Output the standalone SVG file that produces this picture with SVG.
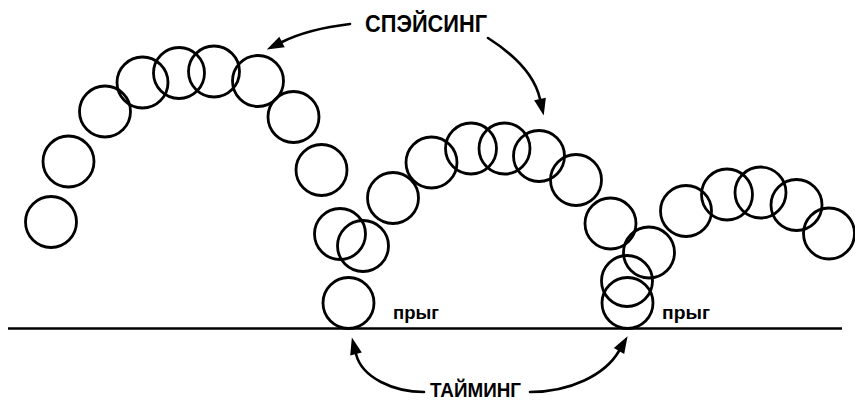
<svg xmlns="http://www.w3.org/2000/svg" width="855" height="402" viewBox="0 0 855 402">
  <style>
    .ball { fill: none; stroke: #000; stroke-width: 2.8; }
    .ground { stroke: #000; stroke-width: 2.5; }
    .arrow { fill: none; stroke: #000; stroke-width: 2.6; stroke-linecap: round; marker-end: url(#head); }
    .label { font-family: "Liberation Sans", Arial, sans-serif; font-weight: bold; fill: #000; }
  </style>
  <defs>
    <marker id="head" markerUnits="userSpaceOnUse" markerWidth="20" markerHeight="14" refX="0" refY="6" orient="auto" overflow="visible">
      <path d="M0,0 L17,6 L0,12 Z" fill="#000"/>
    </marker>
  </defs>

  <rect width="855" height="402" fill="#fff"/>

  <!-- ground -->
  <line class="ground" x1="8" y1="328.5" x2="842" y2="328.5"/>

  <!-- first bounce -->
  <g id="bounce-1">
    <circle id="b1-01" class="ball" cx="51" cy="222" r="25.5"/>
    <circle id="b1-02" class="ball" cx="68.5" cy="161.5" r="25.5"/>
    <circle id="b1-03" class="ball" cx="105" cy="111.5" r="25.5"/>
    <circle id="b1-04" class="ball" cx="142.5" cy="82.5" r="25.5"/>
    <circle id="b1-05" class="ball" cx="179" cy="73" r="25.5"/>
    <circle id="b1-06" class="ball" cx="214" cy="71.5" r="25.5"/>
    <circle id="b1-07" class="ball" cx="258" cy="81" r="25.5"/>
    <circle id="b1-08" class="ball" cx="293.5" cy="117" r="25.5"/>
    <circle id="b1-09" class="ball" cx="321.5" cy="170" r="25.5"/>
    <circle id="b1-10" class="ball" cx="340" cy="234" r="25.5"/>
    <circle id="b1-11" class="ball" cx="363" cy="246" r="25.5"/>
    <circle id="b1-12" class="ball" cx="348.5" cy="303" r="25.5"/>
  </g>

  <!-- second bounce -->
  <g id="bounce-2">
    <circle id="b2-01" class="ball" cx="393" cy="198" r="25.5"/>
    <circle id="b2-02" class="ball" cx="431.5" cy="162.5" r="25.5"/>
    <circle id="b2-03" class="ball" cx="471" cy="148.5" r="25.5"/>
    <circle id="b2-04" class="ball" cx="504.5" cy="148.5" r="25.5"/>
    <circle id="b2-05" class="ball" cx="539" cy="156" r="25.5"/>
    <circle id="b2-06" class="ball" cx="576" cy="180" r="25.5"/>
    <circle id="b2-07" class="ball" cx="610.5" cy="223.5" r="25.5"/>
    <circle id="b2-08" class="ball" cx="649" cy="252.5" r="25.5"/>
    <circle id="b2-09" class="ball" cx="627" cy="281" r="25.5"/>
    <circle id="b2-10" class="ball" cx="627.5" cy="303" r="25.5"/>
  </g>

  <!-- third bounce -->
  <g id="bounce-3">
    <circle id="b3-01" class="ball" cx="686" cy="211" r="25.5"/>
    <circle id="b3-02" class="ball" cx="727" cy="194.5" r="25.5"/>
    <circle id="b3-03" class="ball" cx="760.5" cy="192.5" r="25.5"/>
    <circle id="b3-04" class="ball" cx="796.5" cy="205" r="25.5"/>
    <circle id="b3-05" class="ball" cx="829" cy="233.5" r="25.5"/>
  </g>

  <!-- labels -->
  <g id="labels">
    <text id="spacing" class="label" x="365" y="32" font-size="23" textLength="122" lengthAdjust="spacingAndGlyphs">СПЭЙСИНГ</text>
    <text id="timing" class="label" x="430" y="397" font-size="20" textLength="91" lengthAdjust="spacingAndGlyphs">ТАЙМИНГ</text>
    <text id="hop-1" class="label" x="393" y="319" font-size="18" textLength="46" lengthAdjust="spacingAndGlyphs">прыг</text>
    <text id="hop-2" class="label" x="662" y="319" font-size="18" textLength="48" lengthAdjust="spacingAndGlyphs">прыг</text>
  </g>

  <!-- connectors -->
  <g id="connectors">
    <path class="arrow" d="M350,24 C325,27 300,33 282,42"/>
    <path class="arrow" d="M488,38 C510,52 534,72 540,99"/>
    <path class="arrow" d="M424,392 C394,392 362,378 356,354"/>
    <path class="arrow" d="M530,392 C570,392 605,375 619,351"/>
  </g>
</svg>
